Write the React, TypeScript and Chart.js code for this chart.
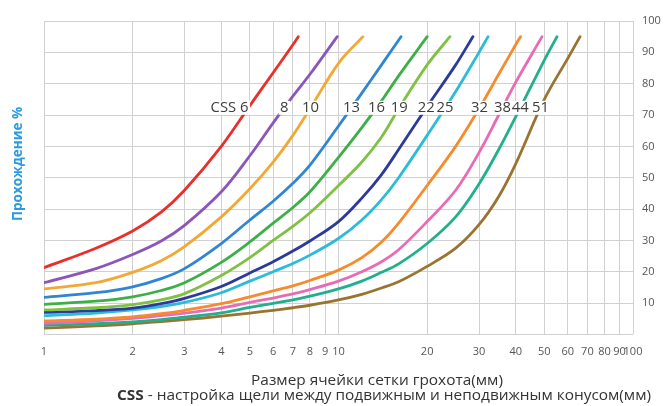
import React, { useEffect, useRef } from 'react';
import { Chart, registerables } from 'chart.js';

Chart.register(...registerables);

// Sieve sizes (mm) at which passing values are read
const sieveSizes = [1, 1.5, 2, 2.5, 3, 4, 5, 6, 7, 8, 10, 12, 14, 16, 20, 25, 30, 35, 40, 50, 60];

// CSS settings (mm) for each curve
const cssSettings = [6, 8, 10, 13, 16, 19, 22, 25, 32, 38, 44, 51];

// Size at which each curve ends (passing = endPassing)
const endSizes = [7.3, 9.9, 12.1, 16.3, 20, 23.9, 28.6, 32.2, 41.5, 49.1, 55.2, 66.1];
const endPassing = 95;

// Passing % per curve, aligned with sieveSizes (until the curve ends)
const css6 = [21.3, 27.5, 33, 39, 46, 60, 73, 83.5, 92.4];
const css8 = [16.5, 21, 25.5, 29.8, 34.8, 45.5, 57, 67.5, 76, 83];
const css10 = [14.5, 16.5, 19.8, 23.5, 28, 37.5, 46.5, 55, 63.5, 72, 86.5];
const css13 = [11.8, 13.3, 15.2, 17.8, 21, 29, 36.5, 42.5, 48.2, 54, 66.5, 77, 86];
const css16 = [9.6, 10.6, 12, 14, 16.5, 23, 29.5, 35.5, 40.5, 45.5, 56.5, 66, 74.5, 82.5];
const css19 = [7.8, 8.5, 9.5, 11, 13, 18.8, 24.5, 30, 34.5, 38.8, 47.5, 55, 63, 72, 86];
const css22 = [7, 7.6, 8.4, 9.8, 11.5, 15.3, 19.6, 23.2, 26.6, 29.8, 36, 43.5, 51, 59, 72.7, 86];
const css25 = [6, 6.8, 7.8, 8.9, 10.2, 13.3, 17, 20, 22.6, 25.3, 30.6, 36.5, 43, 50, 63.5, 77.5, 90];
const css32 = [4.3, 4.9, 5.6, 6.6, 7.7, 9.8, 12, 13.9, 15.5, 17.2, 20.5, 24.5, 29.5, 35.5, 47.5, 60, 72, 83, 92.5];
const css38 = [3.5, 4.3, 5.1, 6, 6.8, 8.4, 10.2, 11.6, 12.9, 14.3, 17, 20, 23.2, 27, 36, 46, 58, 70, 80.5];
const css44 = [2.9, 3.4, 4, 4.7, 5.5, 6.9, 8.6, 9.9, 11, 12.2, 14.5, 17, 19.8, 22.5, 29, 37.5, 48, 59, 69.5, 87.5];
const css51 = [2, 2.7, 3.4, 4.1, 4.7, 5.8, 6.8, 7.7, 8.5, 9.3, 11, 12.8, 14.8, 16.8, 21.7, 27.5, 35, 44, 54.5, 75, 88];

const passingSeries = [css6, css8, css10, css13, css16, css19, css22, css25, css32, css38, css44, css51];

const curveColors = [
  '#e8302a', '#8c55b8', '#f2a833', '#2f86d2', '#3daf48', '#7fc143',
  '#2c3b9b', '#2cbbd8', '#f68b2c', '#e86bb6', '#22b08c', '#9b7331',
];

const xTickValues = [1, 2, 3, 4, 5, 6, 7, 8, 9, 10, 20, 30, 40, 50, 60, 70, 80, 90, 100];
const labelLevel = 72.3;

const yTitle = 'Прохождение %';
const xTitle = 'Размер ячейки сетки грохота(мм)';
const cssTitleBold = 'CSS';
const cssTitleRest = ' - настройка щели между подвижным и неподвижным конусом(мм)';

const FONT = '"Open Sans", "Noto Sans", sans-serif';
const STRETCH = 1.1;

const overlayPlugin = {
  id: 'overlay',
  afterDatasetsDraw(chart: any) {
    const ctx = chart.ctx;
    const yScale = chart.scales.y;
    const targetY = yScale.getPixelForValue(labelLevel);
    ctx.save();
    ctx.font = `14px ${FONT}`;
    ctx.textBaseline = 'middle';
    const sx = 1.06;
    const items: { text: string; left: number; width: number }[] = [];
    cssSettings.forEach((css, i) => {
      const pts = chart.getDatasetMeta(i).data;
      let cx: number | null = null;
      for (let k = 1; k < pts.length; k++) {
        const a = pts[k - 1];
        const b = pts[k];
        if ((a.y - targetY) * (b.y - targetY) <= 0 && a.y !== b.y) {
          cx = a.x + ((targetY - a.y) * (b.x - a.x)) / (b.y - a.y);
          break;
        }
      }
      if (cx === null) return;
      const num = String(css);
      const wNum = ctx.measureText(num).width * sx;
      const text = i === 0 ? `CSS ${num}` : num;
      const w = ctx.measureText(text).width * sx;
      const right = cx + wNum / 2 - (i === 0 ? 4 : 0);
      items.push({ text, left: right - w, width: w });
    });
    ctx.fillStyle = '#ffffff';
    items.forEach((it) => {
      ctx.fillRect(it.left - 1.5, targetY - 7, it.width + 3, 14);
    });
    ctx.fillStyle = '#3c3c3c';
    ctx.textAlign = 'left';
    items.forEach((it) => {
      ctx.save();
      ctx.translate(it.left, targetY + 0.5);
      ctx.scale(sx, 1);
      ctx.fillText(it.text, 0, 0);
      ctx.restore();
    });
    ctx.restore();
  },
  afterDraw(chart: any) {
    const ctx = chart.ctx;
    ctx.save();
    // Y axis title
    ctx.translate(18.5, 164);
    ctx.rotate(-Math.PI / 2);
    ctx.font = `bold 13.5px ${FONT}`;
    ctx.fillStyle = '#2b9be0';
    ctx.textAlign = 'center';
    ctx.textBaseline = 'middle';
    ctx.fillText(yTitle, 0, 0);
    ctx.restore();

    // X axis titles
    ctx.save();
    ctx.fillStyle = '#333333';
    ctx.textBaseline = 'middle';
    ctx.textAlign = 'left';
    const reg = `14px ${FONT}`;
    const bold = `bold 14px ${FONT}`;
    ctx.font = reg;
    const w1 = ctx.measureText(xTitle).width * STRETCH;
    ctx.save();
    ctx.translate(377 - w1 / 2, 381);
    ctx.scale(STRETCH, 1);
    ctx.fillText(xTitle, 0, 0);
    ctx.restore();

    ctx.font = bold;
    const wb = ctx.measureText(cssTitleBold).width;
    ctx.font = reg;
    const wr = ctx.measureText(cssTitleRest).width;
    const start = 384 - ((wb + wr) * STRETCH) / 2;
    ctx.save();
    ctx.translate(start, 396);
    ctx.scale(STRETCH, 1);
    ctx.font = bold;
    ctx.fillText(cssTitleBold, 0, 0);
    ctx.font = reg;
    ctx.fillText(cssTitleRest, wb, 0);
    ctx.restore();
    ctx.restore();
  },
};

export default function App() {
  const canvasRef = useRef<HTMLCanvasElement | null>(null);

  useEffect(() => {
    document.body.style.margin = '0';
    const canvas = canvasRef.current;
    if (!canvas) return;

    const datasets = passingSeries.map((vals, i) => {
      const data = vals.map((v, k) => ({ x: sieveSizes[k], y: v }));
      data.push({ x: endSizes[i], y: endPassing });
      return {
        label: `CSS ${cssSettings[i]}`,
        data,
        borderColor: curveColors[i],
        backgroundColor: curveColors[i],
        borderWidth: 2.8,
        pointRadius: 0,
        showLine: true,
        fill: false,
        tension: 0.35,
        borderCapStyle: 'round' as const,
        borderJoinStyle: 'round' as const,
      };
    });

    const chart = new Chart(canvas, {
      type: 'scatter',
      data: { datasets },
      options: {
        animation: false,
        responsive: false,
        maintainAspectRatio: false,
        layout: { padding: { left: 44, right: 0, top: 21, bottom: 47.6 } },
        plugins: {
          legend: { display: false },
          tooltip: { enabled: false },
          title: { display: false },
        },
        scales: {
          x: {
            type: 'logarithmic',
            min: 1,
            max: 100,
            afterBuildTicks: (scale: any) => {
              scale.ticks = xTickValues.map((v) => ({ value: v }));
            },
            afterFit: (scale: any) => {
              scale.height = 24;
            },
            ticks: {
              autoSkip: false,
              maxRotation: 0,
              minRotation: 0,
              padding: 11,
              color: '#555555',
              font: { family: FONT, size: 11 },
              callback: (v: any) => String(v),
            },
            grid: { color: '#d0d0d0', lineWidth: 1, drawTicks: false },
            border: { display: false },
          },
          y: {
            type: 'linear',
            position: 'right',
            min: 0,
            max: 100,
            afterFit: (scale: any) => {
              scale.width = 31;
            },
            ticks: {
              stepSize: 10,
              padding: 9,
              color: '#555555',
              font: { family: FONT, size: 11 },
              callback: (v: any) => (v === 0 ? '' : String(v)),
            },
            grid: { color: '#d0d0d0', lineWidth: 1, drawTicks: false },
            border: { display: false },
          },
        },
      },
      plugins: [overlayPlugin],
    });

    return () => chart.destroy();
  }, []);

  return (
    <div style={{ width: 664, height: 406, background: '#ffffff' }}>
      <canvas ref={canvasRef} width={664} height={406} />
    </div>
  );
}
